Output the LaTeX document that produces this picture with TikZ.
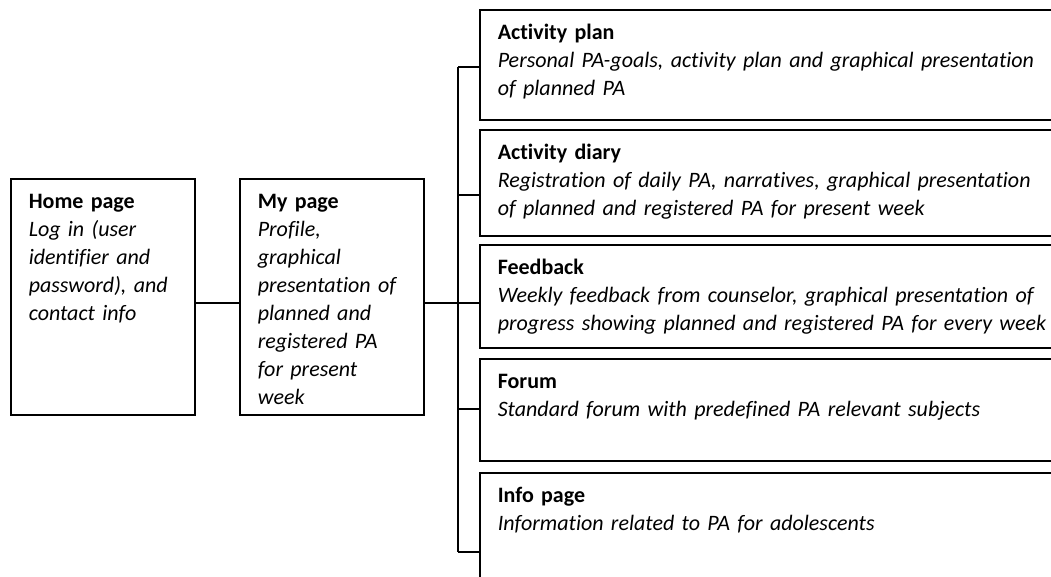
\documentclass[tikz,border=0pt]{standalone}
\usepackage{fontspec}
\setmainfont[Ligatures=NoCommon]{Carlito}
\usetikzlibrary{positioning}
\tikzset{
every node/.style={font=\fontsize{11}{14}\selectfont},
pagebox/.style= {draw, rectangle, line width=0.8pt, anchor=north west, align=left, inner xsep=9pt, inner ysep=0pt, text height=15pt},
leftbox/.style= {pagebox, text width=74pt, text depth=103pt},
rightbox/.style= {pagebox, text width=283pt}
}

\begin{document}
\begin{tikzpicture}[x=0.5pt,y=-0.5pt,line width=0.8pt]
\useasboundingbox (0,0) rectangle (1051,577);
\clip (0,0) rectangle (1051,577);

% the two pages on the left
\node[leftbox] (home) at (10,178) {\textbf{Home page}\\\itshape Log in (user\\identifier and\\password), and\\contact info};
\node[leftbox] (mypage) at (239,178) {\textbf{My page}\\\itshape Profile,\\graphical\\presentation of\\planned and\\registered PA\\for present\\week};

% the pages reached from "My page"
\node[rightbox,text depth=40pt] (plan) at (479,9) {\textbf{Activity plan}\\\itshape Personal PA-goals, activity plan and graphical presentation\\of planned PA};
\node[rightbox,text depth=38pt] (diary) at (479,129) {\textbf{Activity diary}\\\itshape Registration of daily PA, narratives, graphical presentation\\of planned and registered PA for present week};
\node[rightbox,text depth=36.5pt] (feedback) at (479,244) {\textbf{Feedback}\\\itshape Weekly feedback from counselor, graphical presentation of\\progress showing planned and registered PA for every week};
\node[rightbox,text depth=36pt] (forum) at (479,358) {\textbf{Forum}\\\itshape Standard forum with predefined PA relevant subjects};
\node[rightbox,text depth=65pt] (info) at (479,472) {\textbf{Info page}\\\itshape Information related to PA for adolescents};

% lines between the pages
\coordinate (hub) at (458,303);
\draw (home.east |- hub) -- (mypage.west |- hub);
\draw (mypage.east |- hub) -- (hub);
\draw (hub |- 0,67) -- (hub |- 0,552);

\foreach \page/\y in {plan/67,diary/195,feedback/303,forum/409,info/552}
  \draw (hub |- 0,\y) -- (\page.west |- 0,\y);

\end{tikzpicture}
\end{document}
